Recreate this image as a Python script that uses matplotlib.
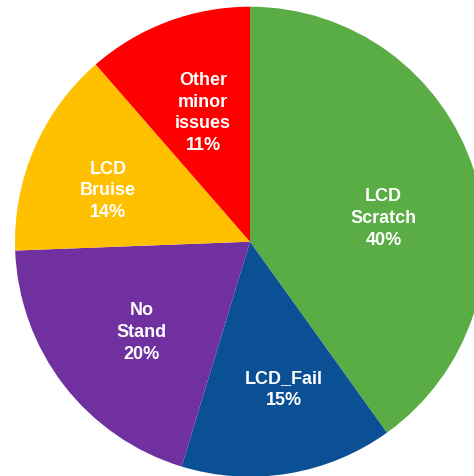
import matplotlib
matplotlib.use("Agg")
import matplotlib.pyplot as plt
import numpy as np

# slices, clockwise from 12 o'clock
names = ["LCD\nScratch", "LCD_Fail", "No\nStand", "LCD\nBruise", "Other\nminor\nissues"]
shares = [40.1, 14.6, 19.7, 14.2, 11.4]
pct_text = ["40%", "15%", "20%", "14%", "11%"]
colors = ["#5AAC44", "#0B4F95", "#7030A0", "#FFC000", "#FF0000"]

plt.rcParams['font.family'] = ['Liberation Sans', 'DejaVu Sans']

W, H, dpi = 474, 477, 100
fig = plt.figure(figsize=(W / dpi, H / dpi), dpi=dpi)
ax = fig.add_axes([0, 0, 1, 1])

R = 235.0          # pie radius in pixels
cx, cy = 250.0, 242.7  # centre, pixels from left / top

wedges, _ = ax.pie(shares, colors=colors, startangle=90, counterclock=False,
                   wedgeprops=dict(linewidth=0))

# label anchors (in pie radii), placed like the office "best fit" layout
label_pos = [(0.568, 0.103), (0.145, -0.623), (-0.460, -0.382),
             (-0.604, 0.220), (-0.200, 0.552)]
for n, p, (lx, ly) in zip(names, pct_text, label_pos):
    ax.text(lx, ly, n + "\n" + p, color="white", fontsize=13, fontweight="bold",
            ha="center", va="center", linespacing=1.37)

ax.set_xlim(-cx / R, (W - cx) / R)
ax.set_ylim(-(H - cy) / R, cy / R)
ax.set_aspect("auto")
ax.axis("off")

fig.savefig("out.png", dpi=dpi)
